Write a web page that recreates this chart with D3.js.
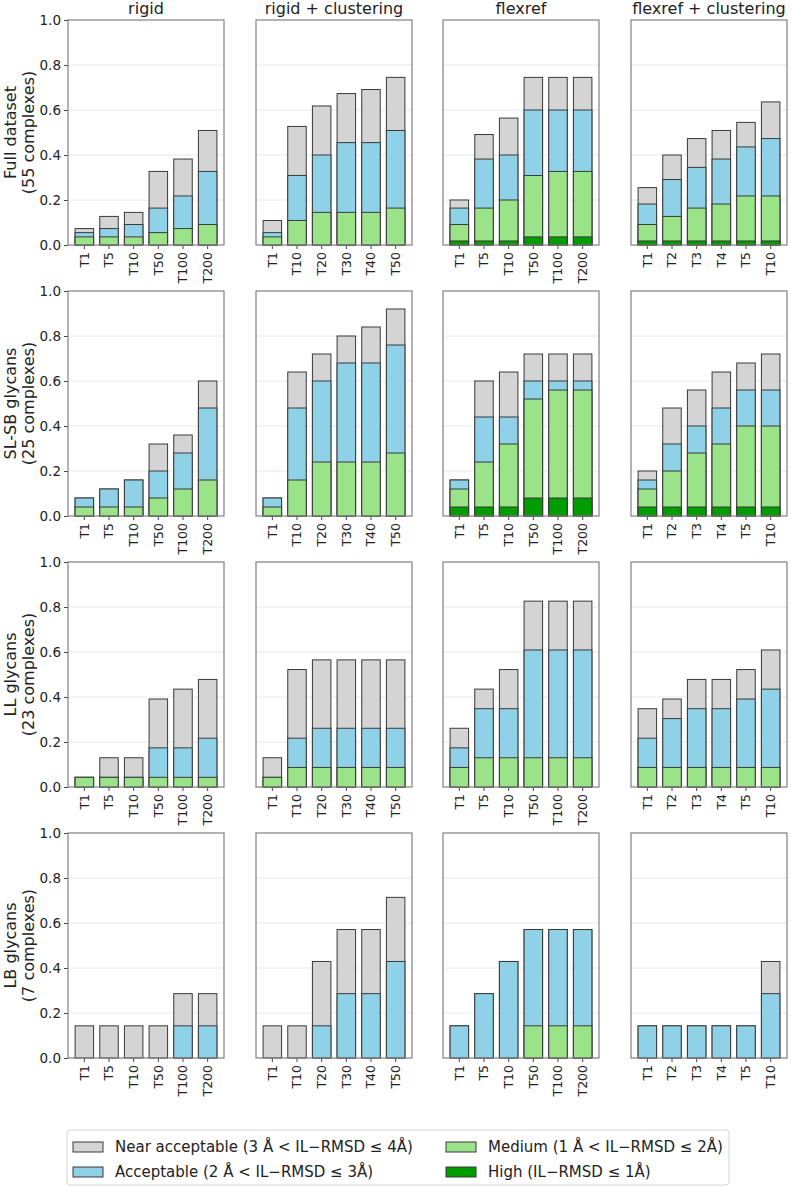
<!DOCTYPE html>
<html>
<head>
<meta charset="utf-8">
<script src="https://cdn.jsdelivr.net/npm/d3@7"></script>
<style>
  body { margin: 0; background: #fff; }
  text { font-family: "DejaVu Sans", sans-serif; fill: #222; }
</style>
</head>
<body>
<div id="chart"></div>
<script>
//column titles and x tick labels per protocol
var protocols = ["rigid", "rigid + clustering", "flexref", "flexref + clustering"];
var topLabels = [
  ["T1", "T5", "T10", "T50", "T100", "T200"],
  ["T1", "T10", "T20", "T30", "T40", "T50"],
  ["T1", "T5", "T10", "T50", "T100", "T200"],
  ["T1", "T2", "T3", "T4", "T5", "T10"]
];
//row labels
var datasets = ["Full dataset", "SL-SB glycans", "LL glycans", "LB glycans"];
var complexes = ["(55 complexes)", "(25 complexes)", "(23 complexes)", "(7 complexes)"];
var yTicks = [0, 0.2, 0.4, 0.6, 0.8, 1.0];
var levels = [
  "Near acceptable (3 Å < IL\u2212RMSD \u2264 4Å)",
  "Acceptable (2 Å < IL\u2212RMSD \u2264 3Å)",
  "Medium (1 Å < IL\u2212RMSD \u2264 2Å)",
  "High (IL\u2212RMSD \u2264 1Å)"
];
var levelColors = ["#d4d4d4", "#8fd1e6", "#9be388", "#009c00"];

//success rates (fraction of complexes), one list per protocol
//full dataset
var fullNear = [[0.073, 0.127, 0.145, 0.327, 0.382, 0.509], [0.109, 0.527, 0.618, 0.673, 0.691, 0.745], [0.2, 0.491, 0.564, 0.745, 0.745, 0.745], [0.255, 0.4, 0.473, 0.509, 0.545, 0.636]];
var fullAcc = [[0.055, 0.073, 0.091, 0.164, 0.218, 0.327], [0.055, 0.309, 0.4, 0.455, 0.455, 0.509], [0.164, 0.382, 0.4, 0.6, 0.6, 0.6], [0.182, 0.291, 0.345, 0.382, 0.436, 0.473]];
var fullMed = [[0.036, 0.036, 0.036, 0.055, 0.073, 0.091], [0.036, 0.109, 0.145, 0.145, 0.145, 0.164], [0.091, 0.164, 0.2, 0.309, 0.327, 0.327], [0.091, 0.127, 0.164, 0.182, 0.218, 0.218]];
var fullHigh = [[0, 0, 0, 0, 0, 0], [0, 0, 0, 0, 0, 0], [0.018, 0.018, 0.018, 0.036, 0.036, 0.036], [0.018, 0.018, 0.018, 0.018, 0.018, 0.018]];
//SL-SB glycans
var slsbNear = [[0.08, 0.12, 0.16, 0.32, 0.36, 0.6], [0.08, 0.64, 0.72, 0.8, 0.84, 0.92], [0.16, 0.6, 0.64, 0.72, 0.72, 0.72], [0.2, 0.48, 0.56, 0.64, 0.68, 0.72]];
var slsbAcc = [[0.08, 0.12, 0.16, 0.2, 0.28, 0.48], [0.08, 0.48, 0.6, 0.68, 0.68, 0.76], [0.16, 0.44, 0.44, 0.6, 0.6, 0.6], [0.16, 0.32, 0.4, 0.48, 0.56, 0.56]];
var slsbMed = [[0.04, 0.04, 0.04, 0.08, 0.12, 0.16], [0.04, 0.16, 0.24, 0.24, 0.24, 0.28], [0.12, 0.24, 0.32, 0.52, 0.56, 0.56], [0.12, 0.2, 0.28, 0.32, 0.4, 0.4]];
var slsbHigh = [[0, 0, 0, 0, 0, 0], [0, 0, 0, 0, 0, 0], [0.04, 0.04, 0.04, 0.08, 0.08, 0.08], [0.04, 0.04, 0.04, 0.04, 0.04, 0.04]];
//LL glycans
var llNear = [[0.043, 0.13, 0.13, 0.391, 0.435, 0.478], [0.13, 0.522, 0.565, 0.565, 0.565, 0.565], [0.261, 0.435, 0.522, 0.826, 0.826, 0.826], [0.348, 0.391, 0.478, 0.478, 0.522, 0.609]];
var llAcc = [[0.043, 0.043, 0.043, 0.174, 0.174, 0.217], [0.043, 0.217, 0.261, 0.261, 0.261, 0.261], [0.174, 0.348, 0.348, 0.609, 0.609, 0.609], [0.217, 0.304, 0.348, 0.348, 0.391, 0.435]];
var llMed = [[0.043, 0.043, 0.043, 0.043, 0.043, 0.043], [0.043, 0.087, 0.087, 0.087, 0.087, 0.087], [0.087, 0.13, 0.13, 0.13, 0.13, 0.13], [0.087, 0.087, 0.087, 0.087, 0.087, 0.087]];
var llHigh = [[0, 0, 0, 0, 0, 0], [0, 0, 0, 0, 0, 0], [0, 0, 0, 0, 0, 0], [0, 0, 0, 0, 0, 0]];
//LB glycans
var lbNear = [[0.143, 0.143, 0.143, 0.143, 0.286, 0.286], [0.143, 0.143, 0.429, 0.571, 0.571, 0.714], [0.143, 0.286, 0.429, 0.571, 0.571, 0.571], [0.143, 0.143, 0.143, 0.143, 0.143, 0.429]];
var lbAcc = [[0, 0, 0, 0, 0.143, 0.143], [0, 0, 0.143, 0.286, 0.286, 0.429], [0.143, 0.286, 0.429, 0.571, 0.571, 0.571], [0.143, 0.143, 0.143, 0.143, 0.143, 0.286]];
var lbMed = [[0, 0, 0, 0, 0, 0], [0, 0, 0, 0, 0, 0], [0, 0, 0, 0.143, 0.143, 0.143], [0, 0, 0, 0, 0, 0]];
var lbHigh = [[0, 0, 0, 0, 0, 0], [0, 0, 0, 0, 0, 0], [0, 0, 0, 0, 0, 0], [0, 0, 0, 0, 0, 0]];

//one entry per row, levels drawn back to front
var rowData = [
  [fullNear, fullAcc, fullMed, fullHigh],
  [slsbNear, slsbAcc, slsbMed, slsbHigh],
  [llNear, llAcc, llMed, llHigh],
  [lbNear, lbAcc, lbMed, lbHigh]
];

//layout
var width = 791, height = 1187;
var colX = [68, 256, 443, 631];
var rowY = [20, 291, 562, 833];
var pw = 156, ph = 225;

var svg = d3.select("#chart").append("svg")
  .attr("width", width)
  .attr("height", height);

var y = d3.scaleLinear().domain([0, 1]).range([ph, 0]);

rowData.forEach(function(levelsData, r) {
  protocols.forEach(function(protocol, c) {
    var g = svg.append("g")
      .attr("transform", "translate(" + colX[c] + "," + rowY[r] + ")");

    var x = d3.scaleBand()
      .domain(topLabels[c])
      .range([0, pw])
      .paddingInner(0.25)
      .paddingOuter(0.2875);

    //gridlines
    g.selectAll(".grid")
      .data(yTicks.filter(function(d) { return d > 0 && d < 1; }))
      .enter().append("line")
      .attr("x1", 0)
      .attr("x2", pw)
      .attr("y1", function(d) { return y(d); })
      .attr("y2", function(d) { return y(d); })
      .style("stroke", "#e8e8e8")
      .style("stroke-width", 1);

    //bars, each level overlapping the previous one
    levelsData.forEach(function(series, l) {
      var vals = series[c];
      g.selectAll(".bar" + l)
        .data(vals.map(function(v, i) { return {label: topLabels[c][i], value: v}; })
          .filter(function(d) { return d.value > 0; }))
        .enter().append("rect")
        .attr("x", function(d) { return x(d.label); })
        .attr("y", function(d) { return y(d.value); })
        .attr("width", x.bandwidth())
        .attr("height", function(d) { return ph - y(d.value); })
        .style("fill", levelColors[l])
        .style("stroke", "#3a3a3a")
        .style("stroke-width", 1);
    });

    //x axis with rotated labels
    var xAxis = g.append("g")
      .attr("transform", "translate(0," + ph + ")")
      .call(d3.axisBottom(x).tickSize(4).tickSizeOuter(0));
    xAxis.select(".domain").remove();
    xAxis.selectAll("line").style("stroke", "#444");
    xAxis.selectAll("text")
      .attr("transform", "rotate(-90)")
      .attr("x", -7)
      .attr("y", 0)
      .attr("dy", "0.35em")
      .style("text-anchor", "end")
      .style("font-size", "12.5px")
      .style("font-family", "DejaVu Sans")
      .style("fill", "#222");

    //y axis only on first column
    if (c == 0) {
      var yAxis = g.append("g")
        .call(d3.axisLeft(y).tickValues(yTicks).tickFormat(d3.format(".1f")).tickSize(4).tickPadding(3));
      yAxis.select(".domain").remove();
      yAxis.selectAll("line").style("stroke", "#444");
      yAxis.selectAll("text")
        .style("font-size", "13.5px")
        .style("font-family", "DejaVu Sans")
        .style("fill", "#222");

      //row label, two lines
      var lab = g.append("text")
        .attr("transform", "translate(-52," + (ph / 2) + ") rotate(-90)")
        .style("text-anchor", "middle")
        .style("font-size", "16px");
      lab.append("tspan").attr("x", 0).attr("dy", "0em").text(datasets[r]);
      lab.append("tspan").attr("x", 0).attr("dy", "1.15em").text(complexes[r]);
    }

    //column title on top row
    if (r == 0) {
      g.append("text")
        .text(protocol)
        .attr("x", pw / 2)
        .attr("y", -6)
        .style("text-anchor", "middle")
        .style("font-size", "16px");
    }

    //frame
    g.append("rect")
      .attr("width", pw)
      .attr("height", ph)
      .style("fill", "none")
      .style("stroke", "#808080")
      .style("stroke-width", 1.2);
  });
});

//legend, two columns filled top to bottom
var legend = svg.append("g");
legend.append("rect")
  .attr("x", 67)
  .attr("y", 1130)
  .attr("width", 662)
  .attr("height", 55)
  .attr("rx", 3)
  .style("fill", "#fff")
  .style("stroke", "#d6d6d6");

var legX = [73, 446];
var legY = [1147, 1172];
levels.forEach(function(name, i) {
  var col = Math.floor(i / 2), row = i % 2;
  legend.append("rect")
    .attr("x", legX[col])
    .attr("y", legY[row] - 5)
    .attr("width", 30)
    .attr("height", 10)
    .style("fill", levelColors[i])
    .style("stroke", "#3a3a3a")
    .style("stroke-width", 1);
  legend.append("text")
    .text(name)
    .attr("x", legX[col] + 42)
    .attr("y", legY[row])
    .attr("dy", "0.35em")
    .style("font-size", "15px");
});
</script>
</body>
</html>
